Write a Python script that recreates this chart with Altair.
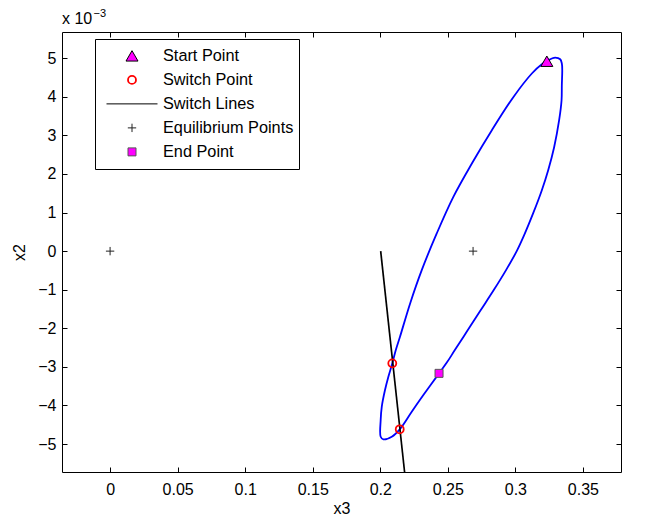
import altair as alt
import pandas as pd

# ---- data (x3, x2 in units of 1e-3) ----
traj_x = [0.3233, 0.3270, 0.3295, 0.3332, 0.3344, 0.3347, 0.3344, 0.3342, 0.3324, 0.3287,
          0.3243, 0.3196, 0.3132, 0.3065, 0.3010, 0.2931, 0.2840, 0.2744, 0.2648, 0.2552,
          0.2495, 0.2435, 0.2319, 0.2233, 0.2144, 0.2085, 0.2023, 0.2003, 0.2003, 0.2011,
          0.2035, 0.2060, 0.2089, 0.2115, 0.2146, 0.2221, 0.2307, 0.2418, 0.2541, 0.2678,
          0.2826, 0.2986, 0.3122, 0.3196, 0.3233]
traj_y = [4.922, 4.992, 5.018, 4.974, 4.863, 4.689, 4.301, 3.912, 3.394, 2.694,
          2.098, 1.580, 0.984, 0.415, 0.000, -0.492, -1.010, -1.528, -2.047, -2.565,
          -2.876, -3.168, -3.731, -4.163, -4.619, -4.811, -4.878, -4.811, -4.378, -4.034,
          -3.601, -3.256, -2.909, -2.565, -2.220, -1.355, -0.492, 0.459, 1.407, 2.272,
          3.135, 3.997, 4.604, 4.845, 4.922]

switch_line_x = [0.2003, 0.2180]
switch_line_y = [0.0, -5.725]

kinds = ["Start Point", "Switch Point", "Switch Lines", "Equilibrium Points", "End Point"]
marker_kind = ["Start Point", "Switch Point", "Switch Point",
               "Equilibrium Points", "Equilibrium Points", "End Point"]
marker_x = [0.3233, 0.2089, 0.2144, 0.0, 0.2687, 0.2435]
marker_y = [4.922, -2.909, -4.619, 0.0, 0.0, -3.168]

x_ticks = [0, 0.05, 0.1, 0.15, 0.2, 0.25, 0.3, 0.35]
y_ticks = [-5, -4, -3, -2, -1, 0, 1, 2, 3, 4, 5]
x_domain = [-0.0356, 0.3782]
y_domain = [-5.725, 5.68]

# ---- styles ----
shape_range = ["triangle-up", "circle", "stroke", "M-1,0L1,0M0,-1L0,1", "square"]
fill_range = ["#ff00ff", "transparent", "transparent", "transparent", "#ff00ff"]
stroke_range = ["#000000", "#ff0000", "#000000", "#222222", "#555555"]
size_range = [144, 64, 2601, 70, 64]
sw_range = [1, 1.8, 1, 1, 1]

FONT = "Liberation Sans"

traj = pd.DataFrame({"x3": traj_x, "x2": traj_y, "i": list(range(len(traj_x)))})
swl = pd.DataFrame({"x3": switch_line_x, "x2": switch_line_y})
mk = pd.DataFrame({"x3": marker_x, "x2": marker_y, "kind": marker_kind})

xs = alt.Scale(domain=x_domain, nice=False, zero=False)
ys = alt.Scale(domain=y_domain, nice=False, zero=False)

common_axis = dict(domain=False, grid=False, offset=-5, tickSize=5, tickColor="black",
                   tickWidth=1, labelFont=FONT, labelFontSize=16, labelColor="black",
                   titleFont=FONT, titleFontSize=16, titleFontWeight="normal",
                   titleColor="black", labelFlush=False)

x_bottom = alt.Axis(orient="bottom", values=x_ticks, format="~g", labelPadding=9,
                    title="x3", titlePadding=3, **common_axis)
y_left = alt.Axis(orient="left", values=y_ticks, format="~g", labelPadding=6,
                  title="x2", titlePadding=10, **common_axis)
x_top = alt.Axis(orient="top", values=x_ticks, labels=False, title=None, **common_axis)
y_right = alt.Axis(orient="right", values=y_ticks, labels=False, title=None, **common_axis)

traj_layer = alt.Chart(traj).mark_line(color="#0000ff", strokeWidth=1.8,
                                       interpolate="catmull-rom").encode(
    x=alt.X("x3:Q", scale=xs, axis=x_bottom),
    y=alt.Y("x2:Q", scale=ys, axis=y_left),
    order="i:Q",
)

sw_layer = alt.Chart(swl).mark_line(color="black", strokeWidth=1.7).encode(
    x=alt.X("x3:Q", scale=xs, axis=x_top),
    y=alt.Y("x2:Q", scale=ys, axis=y_right),
)

leg = alt.Legend(title=None)
mk_layer = alt.Chart(mk).mark_point(opacity=1).encode(
    x=alt.X("x3:Q", scale=xs, axis=None),
    y=alt.Y("x2:Q", scale=ys, axis=None),
    shape=alt.Shape("kind:N", scale=alt.Scale(domain=kinds, range=shape_range), legend=leg),
    fill=alt.Fill("kind:N", scale=alt.Scale(domain=kinds, range=fill_range), legend=leg),
    stroke=alt.Stroke("kind:N", scale=alt.Scale(domain=kinds, range=stroke_range), legend=leg),
    size=alt.Size("kind:N", scale=alt.Scale(type="ordinal", domain=kinds, range=size_range), legend=leg),
    strokeWidth=alt.StrokeWidth("kind:N", scale=alt.Scale(type="ordinal", domain=kinds, range=sw_range), legend=leg),
)

exp_base = alt.Chart(pd.DataFrame({"t": ["x 10"]})).mark_text(
    align="left", baseline="alphabetic", font=FONT, fontSize=16, color="black"
).encode(text="t:N", x=alt.value(0), y=alt.value(-8))

exp_pow = alt.Chart(pd.DataFrame({"t": ["\u22123"]})).mark_text(
    align="left", baseline="alphabetic", font=FONT, fontSize=11, color="black"
).encode(text="t:N", x=alt.value(31.5), y=alt.value(-15.5))

chart = alt.layer(traj_layer, sw_layer, mk_layer, exp_base, exp_pow).resolve_axis(
    x="independent", y="independent"
).properties(
    width=559, height=440,
    autosize=alt.AutoSizeParams(type="none"),
    padding={"left": 54, "top": 24, "right": 16, "bottom": 44},
).configure_view(
    stroke="black", strokeWidth=1
).configure_legend(
    orient="none", legendX=33, legendY=7, padding=5, strokeColor="black",
    fillColor="white", cornerRadius=0, clipHeight=23.75, rowPadding=0,
    symbolOffset=6, labelOffset=5, labelFontSize=16.3, labelFont=FONT,
    labelColor="black", labelLimit=300,
)

chart.save("out.html", embed_options={"renderer": "svg", "actions": False})
